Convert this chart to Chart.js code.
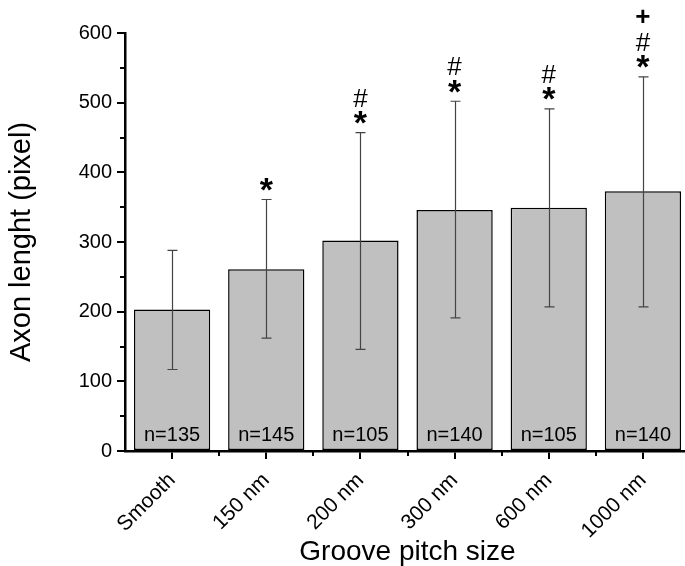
<!DOCTYPE html>
<html>
<head>
<meta charset="utf-8">
<script src="https://cdn.jsdelivr.net/npm/chart.js@4.4.1/dist/chart.umd.min.js"></script>
<style>
  html, body { margin: 0; padding: 0; background: #fff; overflow: hidden; }
  #wrap { width: 700px; height: 566px; }
</style>
</head>
<body>
<div id="wrap"><canvas id="axonChart" width="700" height="566"></canvas></div>
<script>
// DATA
const categories = ["Smooth", "150 nm", "200 nm", "300 nm", "600 nm", "1000 nm"];
const meanLength = [203, 261, 302, 346, 349, 373];
const errHigh = [288, 361, 457, 502, 491, 537];
const errLow = [117, 162, 146, 191, 207, 207];
const sampleSize = ["n=135", "n=145", "n=105", "n=140", "n=105", "n=140"];
const signif = ["", "*", "*#", "*#", "*#", "*#+"];
const yTicks = [0, 100, 200, 300, 400, 500, 600];

const FONT = "'Liberation Sans', Arial, sans-serif";

// draw text centred on its visible ink
function inkText(ctx, str, x, cy) {
  const m = ctx.measureText(str);
  const asc = m.actualBoundingBoxAscent, desc = m.actualBoundingBoxDescent;
  ctx.fillText(str, x, cy + (asc - desc) / 2);
}

// ERROR BARS, N LABELS, SIGNIFICANCE MARKS, MINOR TICKS
const extras = {
  id: "extras",
  afterDatasetsDraw(chart) {
    const ctx = chart.ctx;
    const xs = chart.scales.x, ys = chart.scales.y;
    ctx.save();

    // error bars
    ctx.strokeStyle = "#444";
    ctx.lineWidth = 1.2;
    categories.forEach((c, i) => {
      const x = Math.round(xs.getPixelForValue(i)) + 0.5;
      const hi = ys.getPixelForValue(errHigh[i]);
      const lo = ys.getPixelForValue(errLow[i]);
      ctx.beginPath();
      ctx.moveTo(x, hi); ctx.lineTo(x, lo);
      ctx.moveTo(x - 5, hi); ctx.lineTo(x + 5, hi);
      ctx.moveTo(x - 5, lo); ctx.lineTo(x + 5, lo);
      ctx.stroke();
    });

    // n= labels
    ctx.fillStyle = "#000";
    ctx.textAlign = "center";
    ctx.font = "20px " + FONT;
    sampleSize.forEach((s, i) => {
      inkText(ctx, s, xs.getPixelForValue(i), ys.getPixelForValue(0) - 17);
    });

    // significance symbols
    signif.forEach((s, i) => {
      const x = xs.getPixelForValue(i);
      const top = ys.getPixelForValue(errHigh[i]);
      if (s.includes("*")) {
        ctx.font = "bold 34px " + FONT;
        inkText(ctx, "*", x, top - 15);
      }
      if (s.includes("#")) {
        ctx.font = "26px " + FONT;
        inkText(ctx, "#", x, top - 35);
      }
      if (s.includes("+")) {
        ctx.font = "bold 26px " + FONT;
        inkText(ctx, "+", x, top - 61);
      }
    });

    // minor ticks
    ctx.strokeStyle = "#000";
    ctx.lineWidth = 2;
    const ax = chart.chartArea.left;
    for (let v = 50; v < 600; v += 100) {
      const y = Math.round(ys.getPixelForValue(v));
      ctx.beginPath();
      ctx.moveTo(ax - 5, y); ctx.lineTo(ax, y);
      ctx.stroke();
    }
    const ay = chart.chartArea.bottom;
    const step = xs.getPixelForValue(1) - xs.getPixelForValue(0);
    for (let i = 1; i < categories.length; i++) {
      const x = Math.round(xs.getPixelForValue(i) - step / 2);
      ctx.beginPath();
      ctx.moveTo(x, ay); ctx.lineTo(x, ay + 5);
      ctx.stroke();
    }
    ctx.restore();
  }
};

new Chart(document.getElementById("axonChart"), {
  type: "bar",
  data: {
    labels: categories,
    datasets: [{
      label: "Axon length",
      data: meanLength,
      backgroundColor: "#c0c0c0",
      borderColor: "#000",
      borderWidth: 1.5,
      borderSkipped: false,
      barPercentage: 0.81,
      categoryPercentage: 1
    }]
  },
  options: {
    responsive: false,
    animation: false,
    layout: { padding: { top: 33, right: 10, left: 0, bottom: 0 } },
    plugins: { legend: { display: false }, tooltip: { enabled: false } },
    scales: {
      x: {
        grid: { display: true, drawOnChartArea: false, offset: false, color: "#000", lineWidth: 2, tickLength: 8 },
        border: { display: true, color: "#000", width: 2.5 },
        ticks: { color: "#000", font: { family: FONT, size: 21 }, minRotation: 45, maxRotation: 45, padding: 9 },
        title: { display: true, text: "Groove pitch size", color: "#000", font: { family: FONT, size: 28 }, padding: { top: 0, bottom: -3 } },
        afterFit(scale) { scale.height = 115; }
      },
      y: {
        min: 0,
        max: 600,
        afterBuildTicks(scale) { scale.ticks = yTicks.map(v => ({ value: v })); },
        grid: { display: true, drawOnChartArea: false, color: "#000", lineWidth: 2, tickLength: 8 },
        border: { display: true, color: "#000", width: 2.5 },
        ticks: { color: "#000", font: { family: FONT, size: 20 }, padding: 5 },
        title: { display: true, text: "Axon lenght (pixel)", color: "#000", font: { family: FONT, size: 29 }, padding: { top: 5, bottom: 0 } },
        afterFit(scale) { scale.width = 125; }
      }
    }
  },
  plugins: [extras]
});
</script>
</body>
</html>
